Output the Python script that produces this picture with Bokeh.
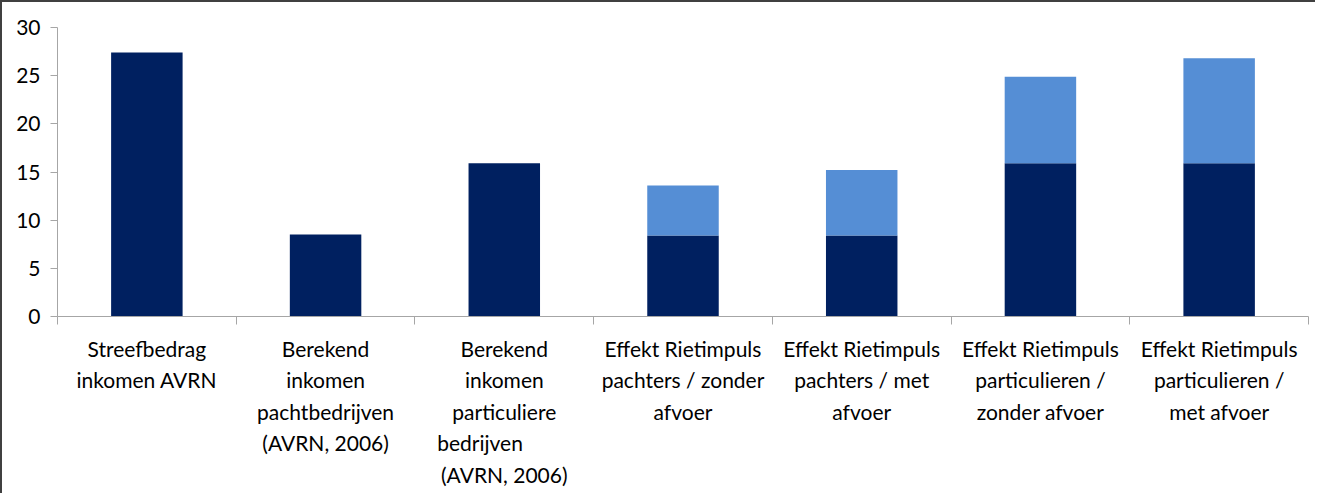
from bokeh.plotting import figure
from bokeh.models import Range1d, FixedTicker, ColumnDataSource
from bokeh.embed import file_html
from bokeh.resources import INLINE

NB = "\u00a0"
categories = [
    "Streefbedrag\ninkomen AVRN",
    "Berekend\ninkomen\npachtbedrijven\n(AVRN, 2006)",
    "Berekend\ninkomen\nparticuliere\nbedrijven" + NB * 9 + "\n(AVRN, 2006)",
    "Effekt Rietimpuls\npachters / zonder\nafvoer",
    "Effekt Rietimpuls\npachters / met\nafvoer",
    "Effekt Rietimpuls\nparticulieren /\nzonder afvoer",
    "Effekt Rietimpuls\nparticulieren /\nmet afvoer",
]
base = [27.4, 8.5, 15.9, 8.4, 8.4, 15.9, 15.9]
effect = [0, 0, 0, 5.2, 6.8, 9.0, 10.9]
y_ticks = [0, 5, 10, 15, 20, 25, 30]

DARK = "#002060"
LIGHT = "#558ED5"
AXIS = "#A6A6A6"
FONT = "Lato"

n = len(categories)
centers = [i + 0.5 for i in range(n)]
bounds = list(range(n + 1))
source = ColumnDataSource(dict(x=centers, base=base, effect=effect))

p = figure(
    x_range=Range1d(0, n),
    y_range=Range1d(0, 30),
    width=1315, height=493,
    output_backend="svg", toolbar_location=None,
    x_axis_location="below", y_axis_location="left",
    min_border_left=55, min_border_right=9, min_border_top=25, min_border_bottom=179,
)
p.styles = {"border-top": "2px solid #404040", "border-left": "2px solid #404040"}

p.vbar_stack(["base", "effect"], x="x", width=0.4, source=source,
             color=[DARK, LIGHT], line_color=None)

p.xgrid.visible = False
p.ygrid.visible = False
p.outline_line_color = None

# y axis
ya = p.yaxis[0]
ya.ticker = FixedTicker(ticks=y_ticks)
ya.minor_tick_line_color = None
ya.axis_line_color = AXIS
ya.major_tick_line_color = AXIS
ya.major_tick_in = 0
ya.major_tick_out = 7
ya.major_label_standoff = 10
ya.major_label_text_font = FONT
ya.major_label_text_font_size = "21px"
ya.major_label_text_color = "#000000"

# x axis: labels at centres, ticks at category boundaries (minor ticks)
xa = p.xaxis[0]
xa.ticker = FixedTicker(ticks=centers, minor_ticks=bounds)
xa.major_label_overrides = {c: lab for c, lab in zip(centers, categories)}
xa.axis_line_color = AXIS
xa.major_tick_line_color = None
xa.major_tick_in = 0
xa.major_tick_out = 0
xa.minor_tick_line_color = AXIS
xa.minor_tick_in = 0
xa.minor_tick_out = 8
xa.major_label_standoff = 11
xa.major_label_text_font = FONT
xa.major_label_text_font_size = "21px"
xa.major_label_text_color = "#000000"
xa.major_label_text_line_height = 1.26

html = file_html(p, INLINE)
html = html.replace("<head>", "<head><style>html,body{overflow:hidden;}</style>", 1)
open("out.html", "w").write(html)
